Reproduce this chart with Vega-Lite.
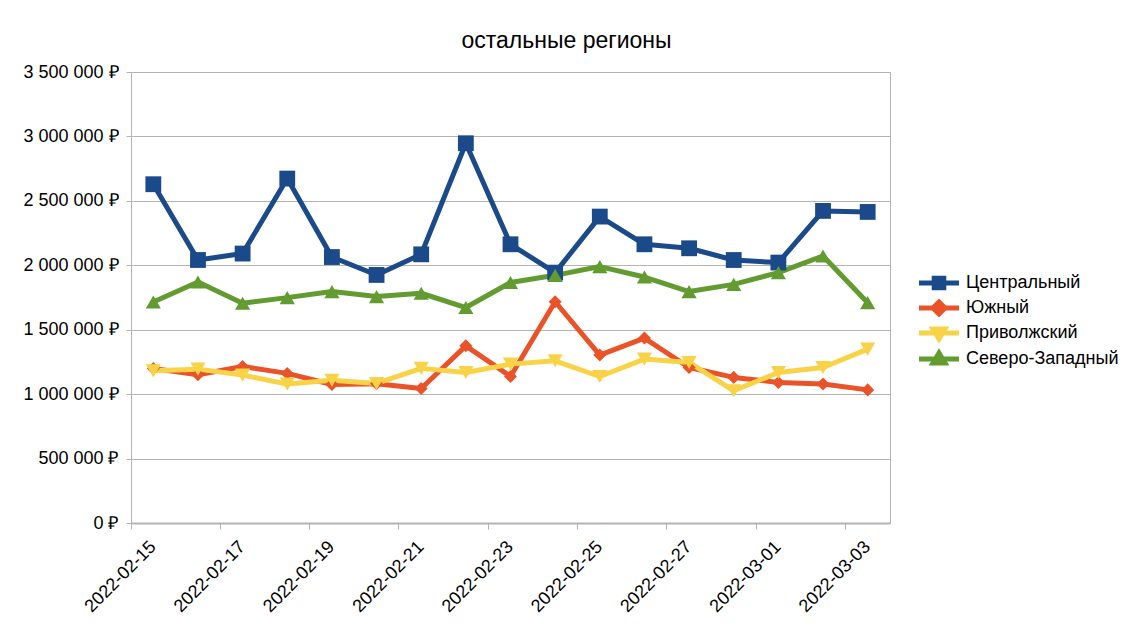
{
  "$schema": "https://vega.github.io/schema/vega-lite/v6.json",
  "width": 759,
  "height": 451,
  "autosize": {"type": "none"},
  "padding": {"left": 131, "top": 72, "right": 244, "bottom": 115},
  "background": "white",
  "config": {
    "font": "Liberation Sans",
    "locale": {"number": {"decimal": ",", "thousands": " ", "grouping": [3], "currency": ["", " ₽"]}},
    "view": {"stroke": "#b3b3b3", "strokeWidth": 1}
  },
  "title": {
    "text": "остальные регионы",
    "fontSize": 23,
    "fontWeight": "normal",
    "font": "Liberation Sans",
    "color": "#000000",
    "anchor": "middle",
    "baseline": "alphabetic",
    "offset": 23,
    "dx": 56,
    "dy": 31
  },
  "data": {
    "values": [
      {"date": "2022-02-15", "region": "Центральный", "value": 2629000},
      {"date": "2022-02-16", "region": "Центральный", "value": 2041000},
      {"date": "2022-02-17", "region": "Центральный", "value": 2091000},
      {"date": "2022-02-18", "region": "Центральный", "value": 2673000},
      {"date": "2022-02-19", "region": "Центральный", "value": 2064000},
      {"date": "2022-02-20", "region": "Центральный", "value": 1925000},
      {"date": "2022-02-21", "region": "Центральный", "value": 2085000},
      {"date": "2022-02-22", "region": "Центральный", "value": 2947000},
      {"date": "2022-02-23", "region": "Центральный", "value": 2163000},
      {"date": "2022-02-24", "region": "Центральный", "value": 1943000},
      {"date": "2022-02-25", "region": "Центральный", "value": 2378000},
      {"date": "2022-02-26", "region": "Центральный", "value": 2163000},
      {"date": "2022-02-27", "region": "Центральный", "value": 2132000},
      {"date": "2022-02-28", "region": "Центральный", "value": 2041000},
      {"date": "2022-03-01", "region": "Центральный", "value": 2021000},
      {"date": "2022-03-02", "region": "Центральный", "value": 2422000},
      {"date": "2022-03-03", "region": "Центральный", "value": 2414000},
      {"date": "2022-02-15", "region": "Южный", "value": 1199000},
      {"date": "2022-02-16", "region": "Южный", "value": 1150000},
      {"date": "2022-02-17", "region": "Южный", "value": 1215000},
      {"date": "2022-02-18", "region": "Южный", "value": 1161000},
      {"date": "2022-02-19", "region": "Южный", "value": 1075000},
      {"date": "2022-02-20", "region": "Южный", "value": 1080000},
      {"date": "2022-02-21", "region": "Южный", "value": 1044000},
      {"date": "2022-02-22", "region": "Южный", "value": 1375000},
      {"date": "2022-02-23", "region": "Южный", "value": 1137000},
      {"date": "2022-02-24", "region": "Южный", "value": 1717000},
      {"date": "2022-02-25", "region": "Южный", "value": 1303000},
      {"date": "2022-02-26", "region": "Южный", "value": 1435000},
      {"date": "2022-02-27", "region": "Южный", "value": 1207000},
      {"date": "2022-02-28", "region": "Южный", "value": 1130000},
      {"date": "2022-03-01", "region": "Южный", "value": 1091000},
      {"date": "2022-03-02", "region": "Южный", "value": 1078000},
      {"date": "2022-03-03", "region": "Южный", "value": 1033000},
      {"date": "2022-02-15", "region": "Приволжский", "value": 1181000},
      {"date": "2022-02-16", "region": "Приволжский", "value": 1194000},
      {"date": "2022-02-17", "region": "Приволжский", "value": 1148000},
      {"date": "2022-02-18", "region": "Приволжский", "value": 1078000},
      {"date": "2022-02-19", "region": "Приволжский", "value": 1108000},
      {"date": "2022-02-20", "region": "Приволжский", "value": 1083000},
      {"date": "2022-02-21", "region": "Приволжский", "value": 1200000},
      {"date": "2022-02-22", "region": "Приволжский", "value": 1168000},
      {"date": "2022-02-23", "region": "Приволжский", "value": 1233000},
      {"date": "2022-02-24", "region": "Приволжский", "value": 1259000},
      {"date": "2022-02-25", "region": "Приволжский", "value": 1137000},
      {"date": "2022-02-26", "region": "Приволжский", "value": 1272000},
      {"date": "2022-02-27", "region": "Приволжский", "value": 1246000},
      {"date": "2022-02-28", "region": "Приволжский", "value": 1026000},
      {"date": "2022-03-01", "region": "Приволжский", "value": 1168000},
      {"date": "2022-03-02", "region": "Приволжский", "value": 1207000},
      {"date": "2022-03-03", "region": "Приволжский", "value": 1349000},
      {"date": "2022-02-15", "region": "Северо-Западный", "value": 1715000},
      {"date": "2022-02-16", "region": "Северо-Западный", "value": 1870000},
      {"date": "2022-02-17", "region": "Северо-Западный", "value": 1705000},
      {"date": "2022-02-18", "region": "Северо-Западный", "value": 1749000},
      {"date": "2022-02-19", "region": "Северо-Западный", "value": 1796000},
      {"date": "2022-02-20", "region": "Северо-Западный", "value": 1757000},
      {"date": "2022-02-21", "region": "Северо-Западный", "value": 1783000},
      {"date": "2022-02-22", "region": "Северо-Западный", "value": 1672000},
      {"date": "2022-02-23", "region": "Северо-Западный", "value": 1866000},
      {"date": "2022-02-24", "region": "Северо-Западный", "value": 1922000},
      {"date": "2022-02-25", "region": "Северо-Западный", "value": 1990000},
      {"date": "2022-02-26", "region": "Северо-Западный", "value": 1909000},
      {"date": "2022-02-27", "region": "Северо-Западный", "value": 1796000},
      {"date": "2022-02-28", "region": "Северо-Западный", "value": 1852000},
      {"date": "2022-03-01", "region": "Северо-Западный", "value": 1943000},
      {"date": "2022-03-02", "region": "Северо-Западный", "value": 2072000},
      {"date": "2022-03-03", "region": "Северо-Западный", "value": 1710000}
    ]
  },
  "encoding": {
    "x": {
      "field": "date",
      "type": "ordinal",
      "bandPosition": 0.5,
      "scale": {"type": "band", "paddingInner": 0, "paddingOuter": 0},
      "axis": {
        "title": null,
        "values": ["2022-02-15", "2022-02-17", "2022-02-19", "2022-02-21", "2022-02-23", "2022-02-25", "2022-02-27", "2022-03-01", "2022-03-03"],
        "bandPosition": 0,
        "labelOffset": 0,
        "labelAngle": -45,
        "labelAlign": "right",
        "labelBaseline": "middle",
        "labelFontSize": 18,
        "labelFont": "Liberation Sans",
        "labelColor": "#000000",
        "labelPadding": 15,
        "tickSize": 6,
        "tickColor": "#b3b3b3",
        "domainColor": "#b3b3b3",
        "domainWidth": 2,
        "grid": false
      }
    },
    "y": {
      "field": "value",
      "type": "quantitative",
      "scale": {"domain": [0, 3500000], "nice": false},
      "axis": {
        "title": null,
        "values": [0, 500000, 1000000, 1500000, 2000000, 2500000, 3000000, 3500000],
        "format": ",d",
        "labelExpr": "datum.label + ' ₽'",
        "labelFontSize": 18,
        "labelFont": "Liberation Sans",
        "labelColor": "#000000",
        "labelPadding": 8,
        "tickSize": 5,
        "tickColor": "#b3b3b3",
        "domainColor": "#b3b3b3",
        "gridColor": "#b3b3b3",
        "grid": true
      }
    }
  },
  "layer": [
    {
      "mark": {"type": "line", "strokeWidth": 5, "strokeJoin": "round"},
      "encoding": {
        "color": {
          "field": "region",
          "type": "nominal",
          "sort": ["Центральный", "Южный", "Приволжский", "Северо-Западный"],
          "scale": {
            "domain": ["Центральный", "Южный", "Приволжский", "Северо-Западный"],
            "range": ["#1a4a89", "#ea5228", "#f8d347", "#629b30"]
          },
          "legend": {
            "title": null,
            "orient": "none",
            "legendX": 799,
            "legendY": 202,
            "padding": 0,
            "symbolSize": 64,
            "labelFontSize": 18,
            "labelFont": "Liberation Sans",
            "labelColor": "#000000",
            "labelOffset": 18,
            "rowPadding": -6,
            "encode": {
              "symbols": {
                "update": {
                  "shape": {"signal": "datum.value === 'Центральный' ? 'M-5,0H5M-1.2,-1.2H1.2V1.2H-1.2Z' : datum.value === 'Южный' ? 'M-5,0H5M0,-1.5L1.5,0L0,1.5L-1.5,0Z' : datum.value === 'Приволжский' ? 'M-5,0H5M-1.5,-1L1.5,-1L0,1.5Z' : 'M-5,0H5M-1.5,1L1.5,1L0,-1.5Z'"},
                  "fill": {"signal": "scale('color', datum.value)"},
                  "stroke": {"signal": "scale('color', datum.value)"},
                  "strokeWidth": {"value": 5},
                  "fillOpacity": {"value": 1},
                  "opacity": {"value": 1}
                }
              }
            }
          }
        }
      }
    },
    {
      "transform": [{"filter": {"field": "region", "equal": "Центральный"}}],
      "mark": {"type": "point", "filled": true, "opacity": 1, "shape": "square", "size": 250, "color": "#1a4a89"}
    },
    {
      "transform": [{"filter": {"field": "region", "equal": "Южный"}}],
      "mark": {"type": "point", "filled": true, "opacity": 1, "shape": "diamond", "size": 170, "color": "#ea5228"}
    },
    {
      "transform": [{"filter": {"field": "region", "equal": "Приволжский"}}],
      "mark": {"type": "point", "filled": true, "opacity": 1, "shape": "triangle-down", "size": 230, "color": "#f8d347"}
    },
    {
      "transform": [{"filter": {"field": "region", "equal": "Северо-Западный"}}],
      "mark": {"type": "point", "filled": true, "opacity": 1, "shape": "triangle-up", "size": 230, "color": "#629b30"}
    }
  ]
}
